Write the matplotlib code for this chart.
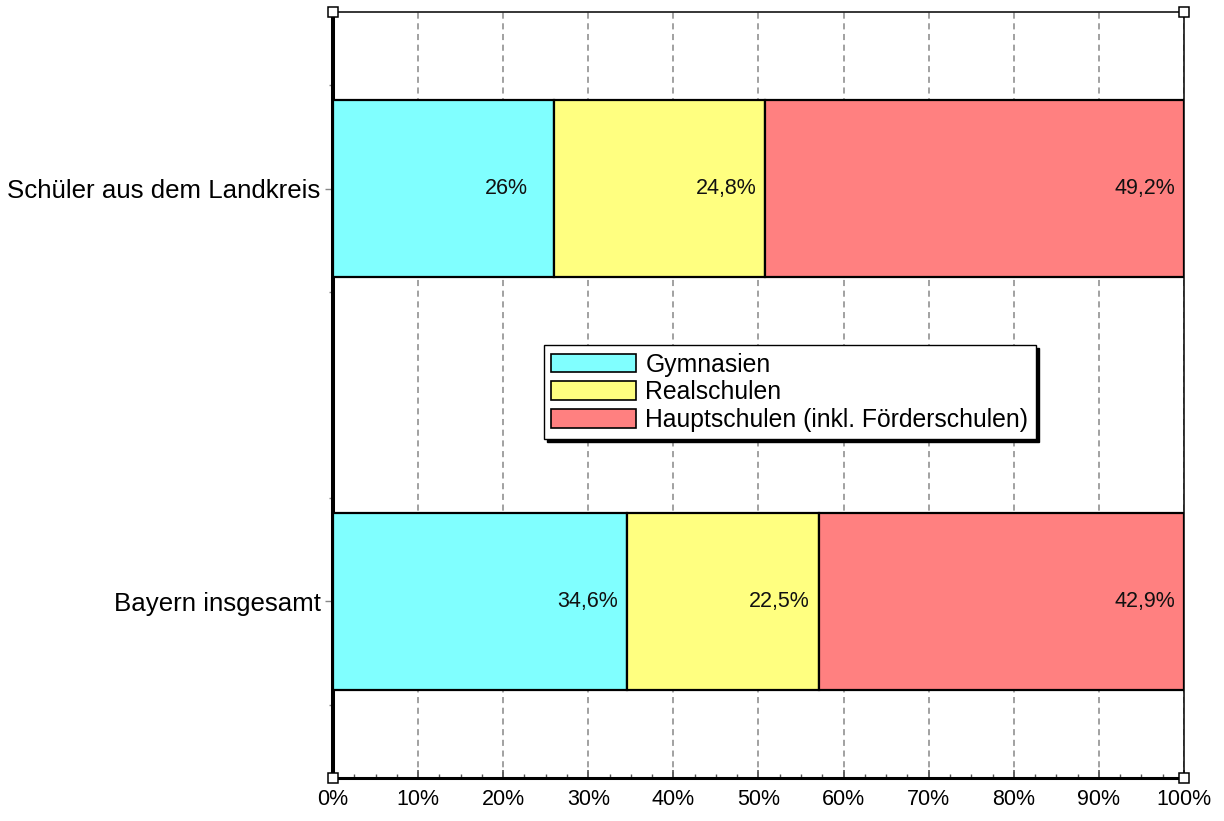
import matplotlib
matplotlib.use("Agg")
import matplotlib.pyplot as plt
from matplotlib.patches import Patch
from matplotlib.ticker import MultipleLocator, FixedLocator

plt.rcParams['font.family'] = ['Liberation Sans', 'DejaVu Sans']

categories = ["Schüler aus dem Landkreis", "Bayern insgesamt"]
series_names = ["Gymnasien", "Realschulen", "Hauptschulen (inkl. Förderschulen)"]
gymnasien = [26.0, 34.6]
realschulen = [24.8, 22.5]
hauptschulen = [49.2, 42.9]
colors = ["#80FFFF", "#FFFF80", "#FF8080"]
x_ticks = [0, 10, 20, 30, 40, 50, 60, 70, 80, 90, 100]

W, H = 1224, 821
fig = plt.figure(figsize=(W / 100, H / 100), dpi=100)
ax = fig.add_axes([333 / W, (H - 778) / H, (1184 - 333) / W, (778 - 12) / H])

ypos = [1, 0]
series = [gymnasien, realschulen, hauptschulen]
left = [0.0, 0.0]
for name, vals, col in zip(series_names, series, colors):
    bars = ax.barh(ypos, vals, left=left, height=0.43, color=col,
                   edgecolor="black", linewidth=1.6, zorder=3)
    for b, v, l in zip(bars, vals, left):
        txt = (f"{v:.1f}".rstrip("0").rstrip(".")).replace(".", ",") + "%"
        off = -26 if "," not in txt else -9
        ax.annotate(txt, xy=(l + v, b.get_y() + b.get_height() / 2),
                    xytext=(off * 0.72, 0), textcoords="offset points",
                    ha="right", va="center", fontsize=15.5, color="#111111", zorder=4)
    left = [a + b for a, b in zip(left, vals)]

ax.set_xlim(0, 100)
ax.set_ylim(-0.428, 1.428)
ax.set_xticks(x_ticks)
ax.set_xticklabels([f"{t}%" for t in x_ticks], fontsize=15.5)
ax.xaxis.set_minor_locator(MultipleLocator(2.5))
ax.set_yticks(ypos)
ax.set_yticklabels(categories, fontsize=18.6)
ax.yaxis.set_minor_locator(FixedLocator([-0.25, 0.25, 0.75, 1.25]))

ax.grid(axis="x", which="major", color="#888888", linestyle=(0, (4, 3)), linewidth=1.1, zorder=1)
ax.tick_params(axis="x", which="major", direction="in", length=6, width=1.2, color="#555555", pad=8)
ax.tick_params(axis="x", which="minor", direction="in", length=3, width=1.0, color="#555555")
ax.tick_params(axis="y", which="major", direction="out", length=6, width=1.0, color="#888888", pad=3)
ax.tick_params(axis="y", which="minor", direction="out", length=3, width=1.0, color="#888888")

for s in ["top", "right"]:
    ax.spines[s].set_linewidth(1.1)
ax.spines["left"].set_linewidth(2.9)
ax.spines["bottom"].set_linewidth(2.2)
for s in ax.spines.values():
    s.set_color("black")

yl = ax.get_ylim()
ax.plot([0, 100, 0, 100], [yl[0], yl[0], yl[1], yl[1]], linestyle="none", marker="s",
        markersize=6.5, markerfacecolor="white", markeredgecolor="black",
        markeredgewidth=1.1, clip_on=False, zorder=10)

handles = [Patch(facecolor=c, edgecolor="black", linewidth=1.2, label=n)
           for c, n in zip(colors, series_names)]
leg = ax.legend(handles=handles, loc="upper left", bbox_to_anchor=(0.248, 0.565),
                fontsize=17.8, frameon=True, fancybox=False, shadow={"color": "black", "alpha": 1},
                handlelength=3.4, handleheight=0.8, handletextpad=0.4, labelspacing=0.15,
                borderpad=0.3, borderaxespad=0)
leg.get_frame().set_edgecolor("black")
leg.get_frame().set_linewidth(1.0)
leg.set_zorder(20)

fig.savefig("out.png", dpi=100, facecolor="white")
